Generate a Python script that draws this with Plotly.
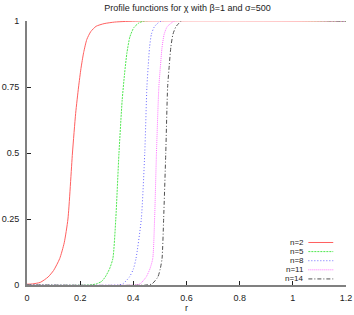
import plotly.graph_objects as go

# ---- data ----
names = ["n=2", "n=5", "n=8", "n=11", "n=14"]

r_n2 = [0, 0.02, 0.05, 0.079, 0.1, 0.123, 0.14, 0.154, 0.171, 0.183, 0.194, 0.203, 0.213, 0.225, 0.24, 0.26, 0.29, 0.33, 0.42, 1.2]
y_n2 = [0.003, 0.004, 0.01, 0.03, 0.055, 0.1, 0.16, 0.25, 0.5, 0.65, 0.75, 0.82, 0.88, 0.93, 0.96, 0.98, 0.99, 0.996, 1.0, 1.0]

r_n5 = [0, 0.235, 0.26, 0.28, 0.294, 0.31, 0.323, 0.334, 0.346, 0.358, 0.367, 0.376, 0.387, 0.402, 0.42, 0.44, 1.2]
y_n5 = [0, 0, 0.004, 0.013, 0.03, 0.06, 0.1, 0.25, 0.5, 0.7, 0.8, 0.88, 0.94, 0.975, 0.992, 1.0, 1.0]

r_n8 = [0, 0.341, 0.36, 0.385, 0.40, 0.41, 0.43, 0.443, 0.451, 0.456, 0.461, 0.468, 0.479, 0.49, 0.505, 1.2]
y_n8 = [0, 0, 0.004, 0.03, 0.06, 0.1, 0.25, 0.5, 0.75, 0.83, 0.9, 0.95, 0.978, 0.99, 1.0, 1.0]

r_n11 = [0, 0.404, 0.425, 0.448, 0.462, 0.473, 0.480, 0.487, 0.496, 0.502, 0.508, 0.516, 0.527, 0.54, 0.555, 1.2]
y_n11 = [0, 0, 0.004, 0.03, 0.06, 0.1, 0.25, 0.5, 0.75, 0.83, 0.9, 0.95, 0.978, 0.99, 1.0, 1.0]

r_n14 = [0, 0.448, 0.47, 0.492, 0.501, 0.508, 0.514, 0.522, 0.529, 0.535, 0.541, 0.549, 0.56, 0.57, 0.58, 1.2]
y_n14 = [0, 0, 0.004, 0.03, 0.06, 0.1, 0.25, 0.5, 0.75, 0.83, 0.9, 0.95, 0.978, 0.99, 1.0, 1.0]

x_ticks = [0, 0.2, 0.4, 0.6, 0.8, 1, 1.2]
x_ticklabels = ["0", "0.2", "0.4", "0.6", "0.8", "1", "1.2"]
y_ticks = [0, 0.25, 0.5, 0.75, 1]
y_ticklabels = ["0", "0.25", "0.5", "0.75", "1"]

# ---- styles ----
colors = ["#ff6060", "#50e850", "#6a6aff", "#ff70ff", "#505050"]
dashes = ["solid", "2px,1px", "1px,2px", "1px,1px", "4px,2px,1px,2px"]
FONT = "Liberation Sans, Arial, Helvetica, sans-serif"
TXT = "#222222"

series = [(r_n2, y_n2), (r_n5, y_n5), (r_n8, y_n8), (r_n11, y_n11), (r_n14, y_n14)]

fig = go.Figure()
for (rx, ry), nm, c, d in zip(series, names, colors, dashes):
    fig.add_trace(go.Scatter(
        x=rx, y=ry, mode="lines", name=nm,
        line=dict(color=c, width=1, dash=d, shape="spline", smoothing=0.6),
        showlegend=False,
    ))

# gnuplot-style key: text right-aligned, line sample to its right
annotations = []
shapes = []
row_y0 = 0.161
row_step = 0.0345
for i, (nm, c, d) in enumerate(zip(names, colors, dashes)):
    yy = row_y0 - i * row_step
    annotations.append(dict(
        x=0.872, y=yy, xref="paper", yref="paper", text=nm, showarrow=False,
        xanchor="right", yanchor="middle", font=dict(family=FONT, size=8, color=TXT),
        borderpad=0,
    ))
    shapes.append(dict(
        type="line", xref="paper", yref="paper", x0=0.882, x1=0.96, y0=yy, y1=yy,
        line=dict(color=c, width=1, dash=d),
    ))

axis_common = dict(
    showline=True, linecolor="#808080", linewidth=2,
    ticks="inside", ticklen=4, tickwidth=1, tickcolor=TXT,
    showgrid=False, zeroline=False, automargin=False,
    tickfont=dict(family=FONT, size=9, color=TXT),
)

fig.update_layout(
    template="none",
    width=354, height=315,
    margin=dict(l=27, r=8, t=21, b=30),
    paper_bgcolor="white", plot_bgcolor="white",
    title=dict(text="Profile functions for χ with β=1 and σ=500",
               x=0.53, xanchor="center", y=0.976, yanchor="middle",
               font=dict(family=FONT, size=9, color=TXT)),
    xaxis=dict(range=[0, 1.2], tickvals=x_ticks, ticktext=x_ticklabels,
               title=dict(text="r", font=dict(family=FONT, size=9, color=TXT), standoff=2),
               ticklabelstandoff=3, **axis_common),
    yaxis=dict(range=[0, 1.0], tickvals=y_ticks, ticktext=y_ticklabels,
               ticklabelstandoff=4, **axis_common),
    annotations=annotations, shapes=shapes,
    showlegend=False,
)

fig.write_html("out.html", config={"displayModeBar": False},
               post_script="document.body.style.margin='0';document.body.style.padding='0';")
